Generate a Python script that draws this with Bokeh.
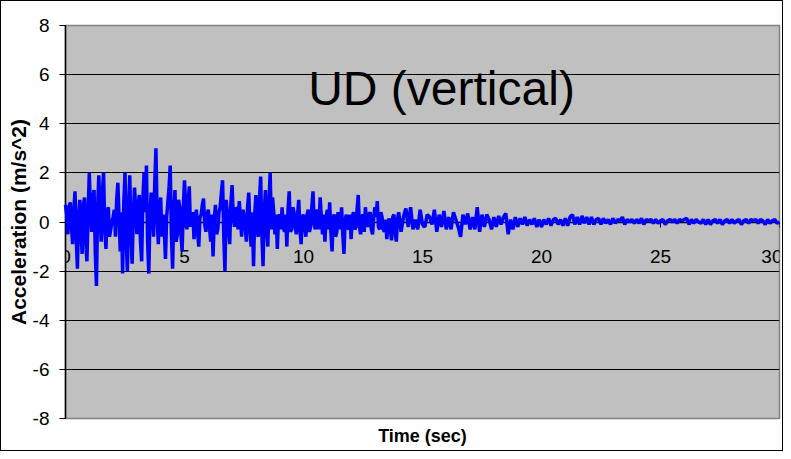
import numpy as np
from bokeh.plotting import figure
from bokeh.models import LinearAxis, FixedTicker, Label, Range1d, PrintfTickFormatter
from bokeh.embed import file_html
from bokeh.resources import INLINE

# Acceleration record, 0.00 .. 14.00 s sampled every 0.05 s
dt_early = 0.05
acc_early = [
    0.7, 0.3, -0.5, 0.6, 0.8, -0.2, -0.9, 0.5, 1.25, -0.6, -1.9, 0.2, 0.9, -0.4, -1.3, 0.7, 1.0, -0.8, -1.6, 0.4,
    2.0, 0.5, -0.4, 1.0, 1.3, -1.2, -2.6, 0.6, 1.9, 0.3, -0.8, 1.2, 2.0, -0.3, -1.1, 0.4, 0.6, -0.6, -0.3, 0.0,
    0.2, 0.5, -0.6, 0.9, 1.6, 0.2, -1.2, 0.4, -2.1, 0.8, 2.0, -0.7, -2.0, 0.6, 1.9, -0.5, -1.7, 0.3, 1.4, 0.5,
    -0.5, 0.6, 1.1, -0.8, -1.6, 0.9, 2.0, 0.4, 2.3, -0.8, -2.1, 0.3, 1.2, 0.5, -0.6, 1.6, 3.0, 0.2, -0.9, 0.6,
    1.0, -0.6, 0.3, -0.3, -1.5, 0.2, 0.8, 1.4, 2.3, -0.5, -1.9, 0.4, 1.3, -0.8, -0.5, 0.9, 0.6, -0.5, -1.2, 0.6,
    1.7, 0.5, -0.3, 0.8, 1.45, -0.2, 0.2, 0.4, -0.7, 0.1, 0.5, -0.4, -1.0, 0.2, 0.3, 0.7, 0.95, -0.1, -0.4, 0.3,
    0.5, -0.2, -0.8, 0.3, -1.4, 0.1, 0.7, -0.5, -0.3, 0.4, 0.6, 1.2, 1.7, -0.6, -2.0, 0.9, 0.4, -0.3, -0.9, 0.8,
    1.5, 0.2, -0.2, 0.6, 0.5, -0.3, 0.85, 0.2, -0.6, 0.5, 0.3, -0.2, -0.8, 0.6, 1.2, -0.3, -1.0, 0.4, -1.8, 0.3,
    1.1, -0.4, -0.6, 0.9, 1.85, -0.5, -1.8, 0.4, 1.3, -0.2, -1.0, 0.8, 2.0, -0.3, 1.0, 0.4, -0.5, 0.3, -1.1, 0.2,
    0.3, -0.3, 0.6, -0.2, -0.4, 0.3, -1.0, 0.5, 1.25, -0.4, -0.3, 0.6, 0.4, -0.2, -0.5, 0.3, 0.9, -0.3, -0.9, 0.2,
    0.3, -0.2, -0.6, 0.3, 0.5, -0.4, -0.2, 0.6, 1.25, -0.1, -0.3, 0.5, 0.4, -0.3, 1.0, 0.2, -0.5, 0.3, -0.8, 0.2,
    0.5, -0.3, 0.8, -0.4, -1.2, 0.2, 0.3, -0.6, -0.4, 0.4, 0.2, -0.3, 0.6, -0.5, -1.3, 0.1, 0.3, -0.2, -0.3, 0.3,
    -0.7, 0.2, 0.4, -0.3, -0.2, 0.5, 1.1, -0.2, -0.5, 0.2, 0.3, -0.4, 0.6, 0.1, -0.2, 0.3, 0.4, -0.3, -0.5, 0.2,
    0.6, 0.2, 0.85, -0.2, -0.3, 0.4, 0.2, -0.3, -0.4, 0.1, -0.7, -0.2, 0.15, -0.3, -0.75, 0.2, 0.3, -0.4, -0.8, 0.1,
    0.4,
]
# Acceleration record, 14.1 .. 30.0 s sampled every 0.1 s
dt_late = 0.1
acc_late = [
    -0.4, 0.2, 0.55, -0.2, 0.6, -0.3, 0.1, -0.3, 0.5, -0.1,
    -0.2, 0.3, 0.2, -0.1, 0.5, -0.4, 0.3, -0.2, 0.45, -0.3,
    0.2, -0.3, 0.4, 0.1, -0.2, -0.6, 0.3, -0.1, 0.35, -0.3,
    0.2, -0.3, 0.6, -0.4, 0.3, -0.2, 0.3, 0.1, -0.3, 0.2,
    -0.2, 0.25, -0.1, 0.2, 0.35, -0.5, 0.1, -0.3, 0.2, -0.2,
    0.15, -0.1, 0.2, -0.15, 0.1, -0.1, 0.15, -0.2, 0.1, -0.2,
    0.1, -0.1, 0.15, -0.15, 0.1, 0.15, -0.1, 0.1, -0.15, 0.15,
    -0.15, 0.2, 0.3, -0.1, 0.2, -0.1, 0.25, -0.05, 0.2, -0.1,
    0.2, -0.1, 0.1, 0.15, -0.1, 0.15, -0.05, 0.1, -0.1, 0.15,
    -0.05, 0.1, 0.05, 0.2, -0.1, 0.1, 0.0, 0.1, -0.05, 0.1,
    -0.05, 0.15, -0.1, 0.1, 0.05, 0.1, -0.05, 0.1, -0.05, 0.05,
    0.1, -0.1, 0.05, 0.1, 0.0, 0.1, -0.05, 0.1, 0.05, 0.1,
    0.15, -0.1, 0.1, -0.05, 0.1, 0.0, -0.05, 0.1, -0.1, 0.1,
    -0.1, 0.05, 0.1, -0.05, 0.1, -0.1, 0.05, 0.1, -0.05, 0.1,
    -0.05, 0.05, 0.1, -0.1, 0.05, 0.1, -0.05, 0.1, 0.05, 0.1,
    -0.05, 0.1, 0.05, -0.1, 0.1, -0.05, 0.05, 0.1, -0.05, 0.0,
]
x_ticks = [0, 5, 10, 15, 20, 25, 30]
y_ticks = [-8, -6, -4, -2, 0, 2, 4, 6, 8]
title_text = "UD (vertical)"
x_label = "Time (sec)"
y_label = "Acceleration (m/s^2)"

t_early = dt_early * np.arange(len(acc_early))
t_late = t_early[-1] + dt_late * np.arange(1, len(acc_late) + 1)
t = np.round(np.concatenate([t_early, t_late]), 3)
acc = np.array(acc_early + acc_late)

FONT = "Liberation Sans"

p = figure(width=783, height=451, output_backend="svg", toolbar_location=None,
           x_range=Range1d(0, 30), y_range=Range1d(-8, 8),
           x_axis_location=None, y_axis_location=None,
           min_border_left=64, min_border_right=5, min_border_top=24,
           min_border_bottom=34)
p.background_fill_color = "#C0C0C0"
p.border_fill_color = "white"
p.outline_line_color = "#808080"
p.outline_line_width = 1.5

# y axis
yax = LinearAxis(ticker=FixedTicker(ticks=y_ticks), axis_label=y_label,
                 formatter=PrintfTickFormatter(format="%d"))
yax.axis_line_color = "black"
yax.axis_line_width = 1.5
yax.major_tick_out = 6
yax.major_tick_in = 0
yax.minor_tick_line_color = None
yax.major_tick_line_color = "black"
yax.major_label_standoff = 10
yax.major_label_text_font = FONT
yax.major_label_text_font_size = "19px"
yax.major_label_text_color = "black"
yax.axis_label_text_font = FONT
yax.axis_label_text_font_style = "bold"
yax.axis_label_text_font_size = "21px"
yax.axis_label_text_color = "black"
yax.axis_label_standoff = 0
p.add_layout(yax, "left")

# x axis crossing at y = 0
xax = LinearAxis(ticker=FixedTicker(ticks=x_ticks), fixed_location=0,
                 formatter=PrintfTickFormatter(format="%d"))
xax.axis_line_color = "black"
xax.axis_line_width = 1.5
xax.major_tick_out = 5
xax.major_tick_in = 0
xax.minor_tick_line_color = None
xax.major_tick_line_color = "black"
xax.major_label_standoff = 23
xax.major_label_text_font = FONT
xax.major_label_text_font_size = "19px"
xax.major_label_text_color = "black"
p.add_layout(xax, "below")

# x axis title
xlab = LinearAxis(ticker=FixedTicker(ticks=[]), axis_label=x_label)
xlab.axis_line_color = None
xlab.major_tick_line_color = None
xlab.minor_tick_line_color = None
xlab.major_tick_out = 0
xlab.major_label_text_font_size = "0px"
xlab.axis_label_standoff = 7
xlab.axis_label_text_font = FONT
xlab.axis_label_text_font_style = "bold"
xlab.axis_label_text_font_size = "18px"
xlab.axis_label_text_color = "black"
p.add_layout(xlab, "below")

p.xgrid.visible = False
p.ygrid.ticker = FixedTicker(ticks=y_ticks)
p.ygrid.grid_line_color = "black"
p.ygrid.grid_line_width = 1.2

p.line(t, acc, line_color="#0000FF", line_width=3.5, level="overlay")

p.add_layout(Label(x=15.8, y=5.45, text=title_text, text_align="center",
                   text_baseline="alphabetic", text_font=FONT,
                   text_font_size="48px", text_color="black"))

p.styles = {"border": "1.5px solid black", "box-sizing": "border-box"}

open("out.html", "w").write(file_html(p, INLINE))
